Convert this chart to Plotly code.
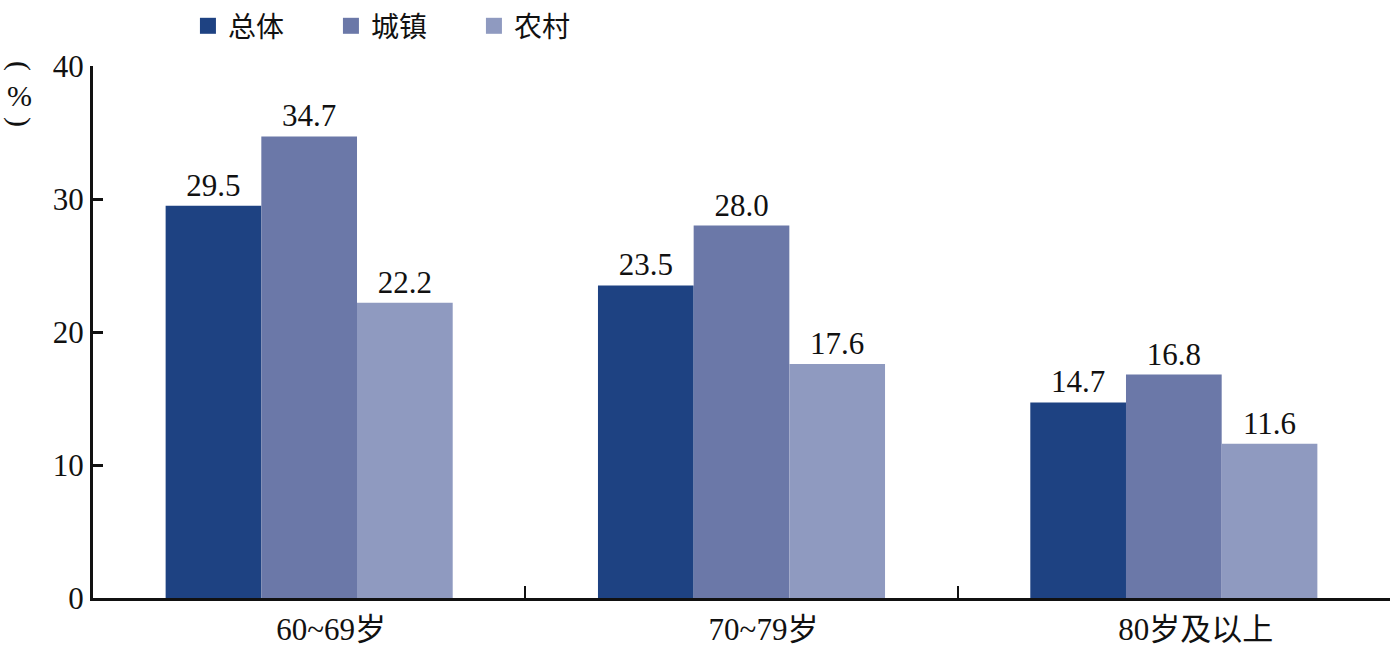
import plotly.graph_objects as go

categories = ["60~69岁", "70~79岁", "80岁及以上"]
series_names = ["总体", "城镇", "农村"]
total = [29.5, 23.5, 14.7]
urban = [34.7, 28.0, 16.8]
rural = [22.2, 17.6, 11.6]
y_ticks = [0, 10, 20, 30, 40]

colors = ["#1e4282", "#6b78a8", "#8f9ac0"]
FONT = "Liberation Serif, Times New Roman, Noto Sans CJK SC"

fig = go.Figure()
for name, vals, c in zip(series_names, [total, urban, rural], colors):
    fig.add_trace(go.Bar(
        x=categories, y=vals, name=name, marker_color=c, marker_line_width=0,
        text=[f"{v:.1f}" for v in vals], textposition="outside",
        textfont=dict(family=FONT, size=31, color="#111"),
        cliponaxis=False, showlegend=False,
    ))
for name, c in zip(series_names, colors):
    fig.add_trace(go.Scatter(
        x=[None], y=[None], mode="markers", name=name,
        marker=dict(symbol="square", size=22, color=c),
    ))

fig.update_layout(
    width=1396, height=648,
    margin=dict(l=93, r=6, t=66, b=50, autoexpand=False),
    plot_bgcolor="white", paper_bgcolor="white",
    barmode="group", bargap=0.336, bargroupgap=0,
    font=dict(family=FONT, size=31, color="#111"),
    showlegend=True,
    legend=dict(orientation="h", x=0.0732, xanchor="left", y=1.075, yanchor="middle",
                yref="paper", font=dict(size=28, family="Noto Sans CJK SC"),
                itemwidth=30, traceorder="normal", entrywidth=98,
                itemsizing="trace"),
    xaxis=dict(range=[-0.5, 2.5], showline=True, linecolor="#111", linewidth=3,
               ticks="inside", ticklen=12, tickwidth=2, tickcolor="#111",
               tickson="boundaries", showgrid=False, tickfont=dict(size=31),
               ticklabelshift=22, ticklabelstandoff=2),
    yaxis=dict(range=[0, 40], tickvals=y_ticks, showline=True, linecolor="#111",
               linewidth=3, ticks="inside", ticklen=10, tickwidth=3, tickcolor="#111",
               showgrid=False, zeroline=False, tickfont=dict(size=31)),
)

for txt, yy, ang in [("(", 1.0, 90), ("%", 0.945, 0), (")", 0.895, 90)]:
    fig.add_annotation(text=txt, xref="paper", yref="paper", x=-0.0563, y=yy,
                       showarrow=False, textangle=ang,
                       font=dict(size=30, family=FONT, color="#111"),
                       xanchor="center", yanchor="middle")

fig.write_html("out.html", config={"displayModeBar": False},
               post_script="document.body.style.margin='0';document.body.style.overflow='hidden';")
